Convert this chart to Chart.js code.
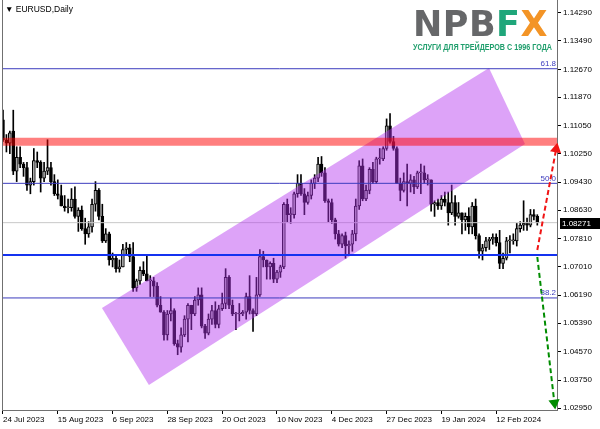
<!DOCTYPE html>
<html>
<head>
<meta charset="utf-8">
<script src="https://cdn.jsdelivr.net/npm/chart.js@4.4.1/dist/chart.umd.min.js"></script>
<style>
  html, body { margin: 0; padding: 0; background: #fff; }
  #wrap { position: relative; width: 600px; height: 429px; }
</style>
</head>
<body>
<div id="wrap"><canvas id="chart" width="600" height="429"></canvas></div>
<script>
// EURUSD daily, 24 Jul 2023 .. 28 Feb 2024 (bar index 0..156)
const opens = [
  1.1122,1.1065,1.1055,1.1090,1.0975,1.1015,1.0995,1.0985,1.0935,1.0945,
  1.1005,1.1000,1.0955,1.0975,1.0985,1.0945,1.0910,1.0905,1.0875,1.0870,
  1.0870,1.0895,1.0845,1.0863,1.0810,1.0795,1.0815,1.0880,1.0920,1.0845,
  1.0775,1.0795,1.0720,1.0725,1.0695,1.0700,1.0750,1.0755,1.0730,1.0640,
  1.0660,1.0690,1.0680,1.0660,1.0660,1.0645,1.0590,1.0570,1.0505,1.0565,
  1.0575,1.0480,1.0470,1.0505,1.0550,1.0590,1.0565,1.0605,1.0620,1.0530,
  1.0510,1.0550,1.0575,1.0535,1.0580,1.0595,1.0670,1.0590,1.0565,1.0565,
  1.0565,1.0570,1.0615,1.0575,1.0565,1.0620,1.0730,1.0720,1.0700,1.0710,
  1.0665,1.0685,1.0700,1.0880,1.0850,1.0850,1.0910,1.0940,1.0910,1.0885,
  1.0905,1.0940,1.0955,1.0995,1.0970,1.0890,1.0885,1.0835,1.0795,1.0765,
  1.0790,1.0760,1.0765,1.0795,1.0875,1.0990,1.0895,1.0920,1.0980,1.0945,
  1.1010,1.1010,1.1040,1.1105,1.1060,1.1040,1.0940,1.0920,1.0945,1.0940,
  1.0950,1.0930,1.0970,1.0970,1.0950,1.0950,1.0880,1.0885,1.0875,1.0895,
  1.0885,1.0855,1.0885,1.0845,1.0855,1.0835,1.0845,1.0815,1.0875,1.0790,
  1.0745,1.0755,1.0775,1.0780,1.0785,1.0770,1.0710,1.0725,1.0775,1.0775,
  1.0775,1.0810,1.0820,1.0825,1.0820,1.0850,1.0845
];
const highs = [
  1.1150,1.1080,1.1090,1.1150,1.1045,1.1045,1.1000,1.1000,1.0955,1.1040,
  1.1030,1.1005,1.1000,1.1065,1.1000,1.0965,1.0950,1.0935,1.0905,1.0895,
  1.0925,1.0930,1.0870,1.0875,1.0840,1.0830,1.0895,1.0945,1.0925,1.0880,
  1.0810,1.0800,1.0740,1.0735,1.0720,1.0765,1.0770,1.0765,1.0770,1.0665,
  1.0700,1.0715,1.0735,1.0675,1.0670,1.0655,1.0615,1.0575,1.0575,1.0610,
  1.0580,1.0490,1.0525,1.0560,1.0595,1.0590,1.0615,1.0640,1.0640,1.0535,
  1.0565,1.0590,1.0600,1.0590,1.0625,1.0695,1.0675,1.0605,1.0570,1.0595,
  1.0575,1.0625,1.0675,1.0580,1.0670,1.0750,1.0745,1.0720,1.0715,1.0725,
  1.0690,1.0705,1.0885,1.0895,1.0870,1.0915,1.0965,1.0965,1.0925,1.0915,
  1.0950,1.0965,1.1015,1.1017,1.0985,1.0895,1.0895,1.0840,1.0805,1.0795,
  1.0800,1.0775,1.0805,1.0895,1.1005,1.1010,1.0935,1.0985,1.1000,1.1015,
  1.1040,1.1045,1.1125,1.1140,1.1075,1.1045,1.0955,1.0970,1.0995,1.0965,
  1.0960,1.0975,1.0995,1.0990,1.0965,1.0950,1.0890,1.0895,1.0905,1.0915,
  1.0915,1.0935,1.0905,1.0885,1.0855,1.0855,1.0870,1.0885,1.0895,1.0795,
  1.0765,1.0785,1.0785,1.0795,1.0795,1.0805,1.0740,1.0785,1.0790,1.0795,
  1.0825,1.0830,1.0890,1.0840,1.0865,1.0865,1.0850
];
const lows = [
  1.1060,1.1030,1.1025,1.0965,1.0945,1.0985,1.0960,1.0920,1.0910,1.0935,
  1.0985,1.0915,1.0945,1.0965,1.0935,1.0905,1.0895,1.0875,1.0860,1.0855,
  1.0860,1.0840,1.0802,1.0805,1.0765,1.0785,1.0800,1.0860,1.0835,1.0770,
  1.0770,1.0705,1.0700,1.0685,1.0685,1.0700,1.0735,1.0715,1.0630,1.0630,
  1.0650,1.0675,1.0660,1.0615,1.0615,1.0585,1.0570,1.0490,1.0490,1.0545,
  1.0475,1.0448,1.0455,1.0500,1.0485,1.0520,1.0560,1.0590,1.0525,1.0495,
  1.0505,1.0535,1.0525,1.0525,1.0575,1.0580,1.0580,1.0560,1.0520,1.0545,
  1.0560,1.0550,1.0565,1.0515,1.0560,1.0615,1.0700,1.0665,1.0665,1.0655,
  1.0655,1.0670,1.0695,1.0830,1.0825,1.0840,1.0900,1.0905,1.0850,1.0880,
  1.0895,1.0925,1.0945,1.0960,1.0885,1.0830,1.0825,1.0780,1.0760,1.0755,
  1.0725,1.0735,1.0745,1.0775,1.0865,1.0890,1.0890,1.0910,1.0940,1.0940,
  1.0995,1.1005,1.1035,1.1055,1.1035,1.0940,1.0890,1.0915,1.0875,1.0915,
  1.0910,1.0925,1.0910,1.0940,1.0935,1.0860,1.0845,1.0865,1.0865,1.0875,
  1.0820,1.0850,1.0820,1.0840,1.0795,1.0805,1.0795,1.0795,1.0780,1.0725,
  1.0720,1.0745,1.0750,1.0765,1.0760,1.0695,1.0695,1.0720,1.0740,1.0765,
  1.0760,1.0800,1.0805,1.0805,1.0815,1.0835,1.0820
];
const closes = [
  1.1065,1.1055,1.1085,1.0975,1.1015,1.0995,1.0985,1.0935,1.0945,1.1005,
  1.1000,1.0955,1.0975,1.0985,1.0945,1.0910,1.0905,1.0875,1.0870,1.0870,
  1.0895,1.0845,1.0863,1.0810,1.0795,1.0815,1.0880,1.0920,1.0845,1.0775,
  1.0795,1.0720,1.0725,1.0695,1.0700,1.0750,1.0755,1.0730,1.0640,1.0660,
  1.0690,1.0680,1.0660,1.0660,1.0645,1.0590,1.0570,1.0505,1.0565,1.0575,
  1.0480,1.0470,1.0505,1.0550,1.0590,1.0565,1.0605,1.0620,1.0530,1.0510,
  1.0550,1.0575,1.0535,1.0580,1.0595,1.0670,1.0590,1.0565,1.0565,1.0565,
  1.0570,1.0615,1.0575,1.0565,1.0620,1.0730,1.0720,1.0700,1.0710,1.0665,
  1.0685,1.0700,1.0880,1.0850,1.0850,1.0910,1.0940,1.0910,1.0885,1.0905,
  1.0940,1.0955,1.0995,1.0970,1.0890,1.0885,1.0835,1.0795,1.0765,1.0790,
  1.0760,1.0765,1.0795,1.0875,1.0990,1.0895,1.0920,1.0980,1.0945,1.1010,
  1.1010,1.1040,1.1105,1.1060,1.1040,1.0940,1.0920,1.0945,1.0940,1.0950,
  1.0930,1.0970,1.0970,1.0950,1.0950,1.0880,1.0885,1.0875,1.0895,1.0885,
  1.0855,1.0885,1.0845,1.0855,1.0835,1.0845,1.0815,1.0875,1.0790,1.0745,
  1.0755,1.0775,1.0780,1.0785,1.0770,1.0710,1.0725,1.0775,1.0775,1.0775,
  1.0810,1.0820,1.0825,1.0820,1.0850,1.0845,1.0827
];

const dateLabels = ['24 Jul 2023', '15 Aug 2023', '6 Sep 2023', '28 Sep 2023', '20 Oct 2023',
  '10 Nov 2023', '4 Dec 2023', '27 Dec 2023', '19 Jan 2024', '12 Feb 2024'];
const barsPerLabel = 16;
const priceTicks = [1.02950, 1.03750, 1.04570, 1.05390, 1.06190, 1.07010, 1.07810, 1.08630,
  1.09430, 1.10250, 1.11050, 1.11870, 1.12670, 1.13490, 1.14290];

const fibLevels = [1.1269, 1.0940, 1.0611];
const fibNames = ['61.8', '50.0', '38.2'];
const resistanceZone = 1.10595;
const supportLevel = 1.0734;
const lastPrice = 1.08271;

// channel corners (bar index, price)
const channelX = [28.9, 141.9, 152.4, 42.6, 28.9];
const channelY = [1.05821, 1.12711, 1.10529, 1.03610, 1.05821];
// forecast arrows
const upArrowX = [156, 161.5];
const upArrowY = [1.07486, 1.10385];
const downArrowX = [156, 161.0];
const downArrowY = [1.07285, 1.03093];

const xMin = -0.29, xMax = 161.75;
const yMin = 1.02893, yMax = 1.14663;

const tickFont = { family: '"Liberation Sans", Arial, sans-serif', size: 8 };
const fibColor = 'rgb(60,60,190)';

function hLine(y, color, width, order) {
  return {
    type: 'line',
    data: [{ x: xMin, y: y }, { x: xMax, y: y }],
    borderColor: color,
    borderWidth: width,
    pointRadius: 0,
    clip: 0,
    order: order
  };
}

// drop the label overhang padding so the plot fills the canvas like the terminal
function noPadding(s) {
  s.paddingLeft = 0; s.paddingRight = 0; s.paddingTop = 0; s.paddingBottom = 0;
}

const overlay = {
  id: 'overlay',
  beforeDraw(chart) {
    const ctx = chart.ctx;
    ctx.save();
    ctx.fillStyle = '#fff';
    ctx.fillRect(0, 0, chart.width, chart.height);
    ctx.restore();
  },
  afterDraw(chart) {
    const ctx = chart.ctx;
    const area = chart.chartArea;
    const y = chart.scales.y;
    ctx.save();

    // left frame
    ctx.strokeStyle = '#707070';
    ctx.lineWidth = 1;
    ctx.beginPath();
    ctx.moveTo(area.left + 0.5, area.top);
    ctx.lineTo(area.left + 0.5, area.bottom);
    ctx.stroke();

    // symbol title
    ctx.fillStyle = '#000';
    ctx.font = '8.5px "Liberation Sans", Arial, sans-serif';
    ctx.textBaseline = 'middle';
    ctx.textAlign = 'left';
    ctx.fillText('\u25BC EURUSD,Daily', 5, 10);

    // fibo level names
    ctx.fillStyle = fibColor;
    ctx.font = '8px "Liberation Sans", Arial, sans-serif';
    ctx.textAlign = 'right';
    ctx.textBaseline = 'bottom';
    fibLevels.forEach((lv, k) => {
      ctx.fillText(fibNames[k], area.right - 1, y.getPixelForValue(lv) - 1);
    });

    // current price box
    const py = Math.round(y.getPixelForValue(lastPrice));
    ctx.fillStyle = '#000';
    ctx.fillRect(area.right + 3, py - 5, chart.width - area.right - 3, 11);
    ctx.fillStyle = '#fff';
    ctx.textAlign = 'left';
    ctx.textBaseline = 'middle';
    ctx.font = '8px "Liberation Sans", Arial, sans-serif';
    ctx.fillText(lastPrice.toFixed(5), area.right + 5, py + 0.5);

    // logo
    ctx.font = 'bold 35px "DejaVu Sans", sans-serif';
    ctx.textBaseline = 'alphabetic';
    const letters = [['N', '#666769'], ['P', '#666769'], ['B', '#666769'], ['F', '#1fa67a'], ['X', '#f39426']];
    let lx = 413;
    letters.forEach(([ch, col]) => {
      ctx.fillStyle = col;
      ctx.fillText(ch, lx, 36);
      lx += ctx.measureText(ch).width + 0.5;
    });
    ctx.fillStyle = '#1f9e6c';
    ctx.font = 'bold 9px "Liberation Sans", Arial, sans-serif';
    ctx.fillText('УСЛУГИ ДЛЯ ТРЕЙДЕРОВ С 1996 ГОДА', 413, 50, 139);

    ctx.restore();
  }
};

const wickData = highs.map((h, i) => ({ x: i, y: [lows[i], h] }));
const bodyData = opens.map((o, i) => ({ x: i, y: [o, closes[i]] }));
const bodyColors = opens.map((o, i) => closes[i] >= o ? '#a8a8a8' : '#000');

new Chart(document.getElementById('chart'), {
  data: {
    datasets: [
      {
        type: 'bar', data: wickData, backgroundColor: '#000',
        barThickness: 1, grouped: false, order: 20
      },
      {
        type: 'bar', data: bodyData, backgroundColor: bodyColors, borderColor: '#000',
        borderWidth: 1, borderSkipped: false, barThickness: 3, minBarLength: 1,
        grouped: false, order: 19
      },
      hLine(lastPrice, '#c8c8c8', 1, 18),
      {
        type: 'line',
        data: channelX.map((x, k) => ({ x: x, y: channelY[k] })),
        borderColor: 'rgba(0,0,0,0)', borderWidth: 0,
        backgroundColor: 'rgba(180,50,240,0.45)',
        fill: 'shape', pointRadius: 0, tension: 0, order: 10
      },
      hLine(resistanceZone, 'rgba(255,0,0,0.5)', 8, 9),
      hLine(fibLevels[0], fibColor, 1, 8),
      hLine(fibLevels[1], fibColor, 1, 8),
      hLine(fibLevels[2], fibColor, 1, 8),
      hLine(supportLevel, 'rgb(20,50,240)', 2, 7),
      {
        type: 'line',
        data: upArrowX.map((x, k) => ({ x: x, y: upArrowY[k] })),
        borderColor: 'rgb(240,20,20)', borderWidth: 2, borderDash: [5, 3],
        pointRadius: [0, 4.5], pointStyle: 'triangle', pointRotation: [0, 11],
        pointBackgroundColor: 'rgb(240,20,20)', pointBorderColor: 'rgb(240,20,20)',
        clip: false, order: 2
      },
      {
        type: 'line',
        data: downArrowX.map((x, k) => ({ x: x, y: downArrowY[k] })),
        borderColor: 'rgb(0,140,0)', borderWidth: 2, borderDash: [5, 3],
        pointRadius: [0, 4.5], pointStyle: 'triangle', pointRotation: [0, 173],
        pointBackgroundColor: 'rgb(0,140,0)', pointBorderColor: 'rgb(0,140,0)',
        clip: false, order: 1
      }
    ]
  },
  options: {
    responsive: false,
    animation: false,
    layout: { autoPadding: false, padding: { left: 2, top: 0, right: 0, bottom: 0 } },
    plugins: { legend: { display: false }, tooltip: { enabled: false } },
    scales: {
      x: {
        type: 'linear', position: 'bottom', min: xMin, max: xMax, offset: false,
        grid: { drawOnChartArea: false, tickLength: 4, color: '#000', offset: false },
        border: { color: '#707070' },
        ticks: {
          align: 'start', maxRotation: 0, autoSkip: false, padding: 1,
          font: tickFont, color: '#000',
          callback: v => dateLabels[Math.round(v / barsPerLabel)] || ''
        },
        afterBuildTicks: s => { s.ticks = dateLabels.map((d, k) => ({ value: k * barsPerLabel })); },
        afterFit: s => { s.height = 19; noPadding(s); }
      },
      y: {
        type: 'linear', position: 'right', min: yMin, max: yMax,
        grid: { drawOnChartArea: false, tickLength: 4, color: '#000' },
        border: { color: '#707070' },
        ticks: {
          padding: 2, font: tickFont, color: '#000',
          callback: v => v.toFixed(5)
        },
        afterBuildTicks: s => { s.ticks = priceTicks.map(v => ({ value: v })); },
        afterFit: s => { s.width = 43; noPadding(s); }
      }
    }
  },
  plugins: [overlay]
});
</script>
</body>
</html>
